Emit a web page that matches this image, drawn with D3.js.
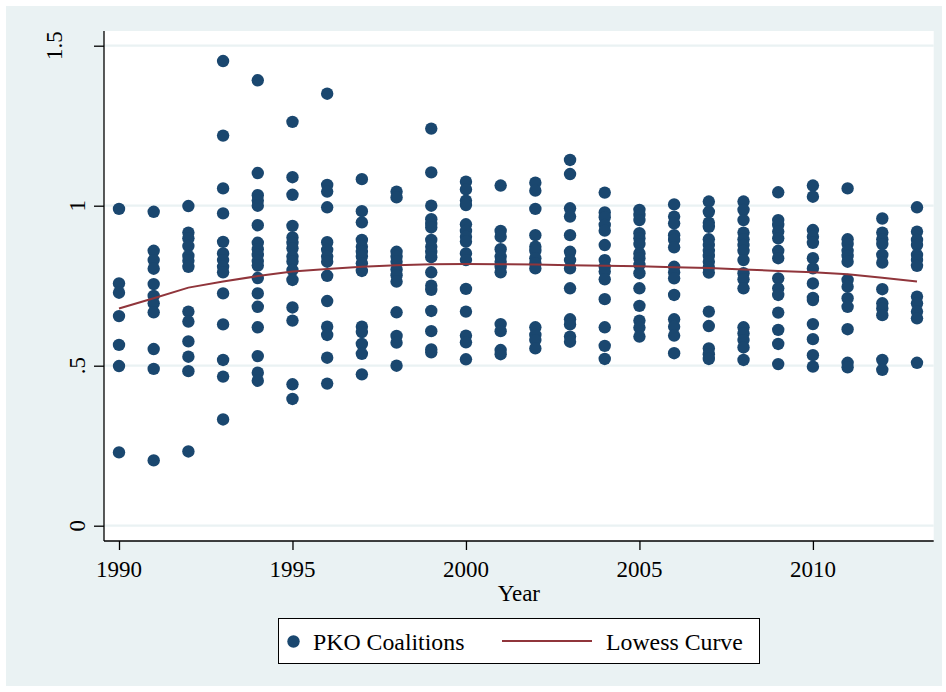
<!DOCTYPE html>
<html><head><meta charset="utf-8">
<script src="https://cdn.jsdelivr.net/npm/d3@7"></script>
<style>body{margin:0;background:#fff}svg{display:block}text{font-family:"Liberation Serif","Times New Roman",serif;fill:#000}</style>
</head><body>
<svg id="c" width="946" height="692"></svg>
<script>
const years = [1990,1991,1992,1993,1994,1995,1996,1997,1998,1999,2000,2001,2002,2003,2004,2005,2006,2007,2008,2009,2010,2011,2012,2013];
const pkoValues = [
 [0.990,0.757,0.728,0.655,0.565,0.499,0.229],
 [0.981,0.859,0.830,0.803,0.755,0.718,0.695,0.667,0.552,0.490,0.204],
 [0.999,0.916,0.898,0.874,0.843,0.828,0.809,0.669,0.638,0.576,0.528,0.483,0.232],
 [1.452,1.219,1.054,0.976,0.887,0.851,0.830,0.809,0.792,0.726,0.629,0.518,0.466,0.332],
 [1.392,1.102,1.033,1.016,1.000,0.939,0.884,0.864,0.846,0.827,0.813,0.774,0.726,0.684,0.620,0.530,0.478,0.453],
 [1.262,1.089,1.034,0.937,0.901,0.884,0.867,0.841,0.826,0.799,0.768,0.682,0.641,0.442,0.396],
 [1.350,1.065,1.044,0.995,0.886,0.862,0.841,0.825,0.781,0.702,0.622,0.596,0.525,0.444],
 [1.083,0.983,0.948,0.893,0.872,0.856,0.841,0.820,0.796,0.622,0.605,0.568,0.537,0.473],
 [1.044,1.026,0.856,0.841,0.825,0.801,0.783,0.763,0.667,0.593,0.572,0.500],
 [1.241,1.104,1.000,0.958,0.943,0.932,0.893,0.872,0.856,0.839,0.792,0.750,0.737,0.671,0.608,0.551,0.542],
 [1.075,1.051,1.016,1.002,0.942,0.921,0.903,0.888,0.851,0.830,0.740,0.669,0.594,0.573,0.520],
 [1.063,0.921,0.903,0.864,0.841,0.825,0.809,0.792,0.630,0.608,0.549,0.536],
 [1.072,1.047,0.990,0.908,0.872,0.859,0.836,0.820,0.804,0.620,0.596,0.580,0.554],
 [1.143,1.099,0.992,0.966,0.908,0.856,0.830,0.804,0.742,0.645,0.629,0.591,0.575],
 [1.041,0.979,0.964,0.940,0.922,0.877,0.830,0.809,0.794,0.770,0.708,0.620,0.562,0.521],
 [0.987,0.971,0.955,0.914,0.898,0.880,0.851,0.836,0.815,0.789,0.742,0.687,0.641,0.619,0.591],
 [1.004,0.966,0.945,0.908,0.893,0.870,0.809,0.792,0.773,0.721,0.645,0.622,0.594,0.539],
 [1.013,0.981,0.947,0.934,0.895,0.877,0.859,0.843,0.825,0.807,0.791,0.669,0.624,0.554,0.536,0.521],
 [1.013,0.987,0.955,0.916,0.895,0.877,0.859,0.830,0.789,0.770,0.742,0.620,0.601,0.580,0.557,0.518],
 [1.042,0.955,0.940,0.919,0.898,0.859,0.836,0.773,0.742,0.721,0.666,0.612,0.568,0.505],
 [1.063,1.028,0.924,0.903,0.884,0.836,0.804,0.757,0.712,0.705,0.630,0.583,0.533,0.497],
 [1.054,0.895,0.880,0.859,0.843,0.825,0.768,0.747,0.711,0.684,0.614,0.509,0.495],
 [0.960,0.916,0.895,0.880,0.846,0.822,0.739,0.695,0.679,0.658,0.518,0.487],
 [0.995,0.919,0.893,0.877,0.846,0.830,0.812,0.716,0.695,0.669,0.648,0.509]
];
const lowessValues = [0.679,0.711,0.744,0.763,0.780,0.794,0.802,0.809,0.814,0.817,0.818,0.817,0.816,0.814,0.8125,0.811,0.808,0.805,0.801,0.796,0.792,0.786,0.775,0.763];
const xTicks = [1990,1995,2000,2005,2010];
const yTicks = [0,0.5,1,1.5];
const yTickLabels = ["0",".5","1","1.5"];
const xTitle = "Year";
const legendLabels = ["PKO Coalitions","Lowess Curve"];

const navy = "#1a476f", maroon = "#90353b", bg = "#eaf2f3";
const fs = 23;
const svg = d3.select("#c");
svg.append("rect").attr("x",6).attr("y",6).attr("width",936).attr("height",680).attr("fill",bg);

const plot = {l:104, r:933.7, t:31, b:541};
svg.append("rect").attr("x",plot.l).attr("y",plot.t).attr("width",plot.r-plot.l).attr("height",plot.b-plot.t).attr("fill","#fff");

const x = d3.scaleLinear().domain([1990,2013]).range([119,917]);
const y = d3.scaleLinear().domain([0,1.5]).range([525.7,45.7]);

// gridlines
svg.append("g").selectAll("line").data(yTicks).join("line")
  .attr("x1",plot.l).attr("x2",plot.r).attr("y1",d=>y(d)).attr("y2",d=>y(d))
  .attr("stroke",bg).attr("stroke-width",2.2);

// lowess
const pts = [];
years.forEach((yr,i)=>pkoValues[i].forEach(v=>pts.push([yr,v])));
svg.append("g").selectAll("circle").data(pts).join("circle")
  .attr("cx",d=>x(d[0])).attr("cy",d=>y(d[1])).attr("r",6.2)
  .attr("fill",navy);

svg.append("path").datum(years.map((yr,i)=>[yr,lowessValues[i]]))
  .attr("d",d3.line().x(d=>x(d[0])).y(d=>y(d[1])))
  .attr("fill","none").attr("stroke",maroon).attr("stroke-width",2);

// axes
const yAxis = svg.append("g").attr("transform",`translate(${plot.l},0)`)
  .call(d3.axisLeft(y).tickValues(yTicks).tickSize(10).tickFormat(""));
yAxis.select(".domain").attr("d",`M0,${plot.t}V${plot.b}`).attr("stroke","#000").attr("stroke-width",1.3);
yAxis.selectAll(".tick line").attr("stroke","#000").attr("stroke-width",1.3);
svg.append("g").selectAll("text").data(yTicks).join("text")
  .attr("transform",(d,i)=>`translate(${85-(yTickLabels[i].length>2?fs:0)},${y(d)}) rotate(-90)`)
  .attr("text-anchor","middle").attr("font-size",fs).text((d,i)=>yTickLabels[i]);

const xAxis = svg.append("g").attr("transform",`translate(0,${plot.b})`)
  .call(d3.axisBottom(x).tickValues(xTicks).tickSize(9).tickFormat(""));
xAxis.select(".domain").attr("d",`M${plot.l},0H${plot.r}`).attr("stroke","#000").attr("stroke-width",1.3);
xAxis.selectAll(".tick line").attr("stroke","#000").attr("stroke-width",1.3);
svg.append("g").selectAll("text").data(xTicks).join("text")
  .attr("x",d=>x(d)).attr("y",577).attr("text-anchor","middle").attr("font-size",fs).text(d=>d);
svg.append("text").attr("x",(plot.l+plot.r)/2).attr("y",601).attr("text-anchor","middle").attr("font-size",fs).text(xTitle);

// legend
const lg = svg.append("g");
lg.append("rect").attr("x",278.5).attr("y",618.5).attr("width",481).attr("height",45).attr("fill","#fff").attr("stroke","#000").attr("stroke-width",1);
lg.append("circle").attr("cx",293.5).attr("cy",641.5).attr("r",6.2).attr("fill",navy);
lg.append("text").attr("x",313).attr("y",650).attr("font-size",fs+0.8).text(legendLabels[0]);
lg.append("line").attr("x1",502).attr("x2",592).attr("y1",641).attr("y2",641).attr("stroke",maroon).attr("stroke-width",2.2);
lg.append("text").attr("x",606).attr("y",650).attr("font-size",fs+0.8).text(legendLabels[1]);
</script>
</body></html>
